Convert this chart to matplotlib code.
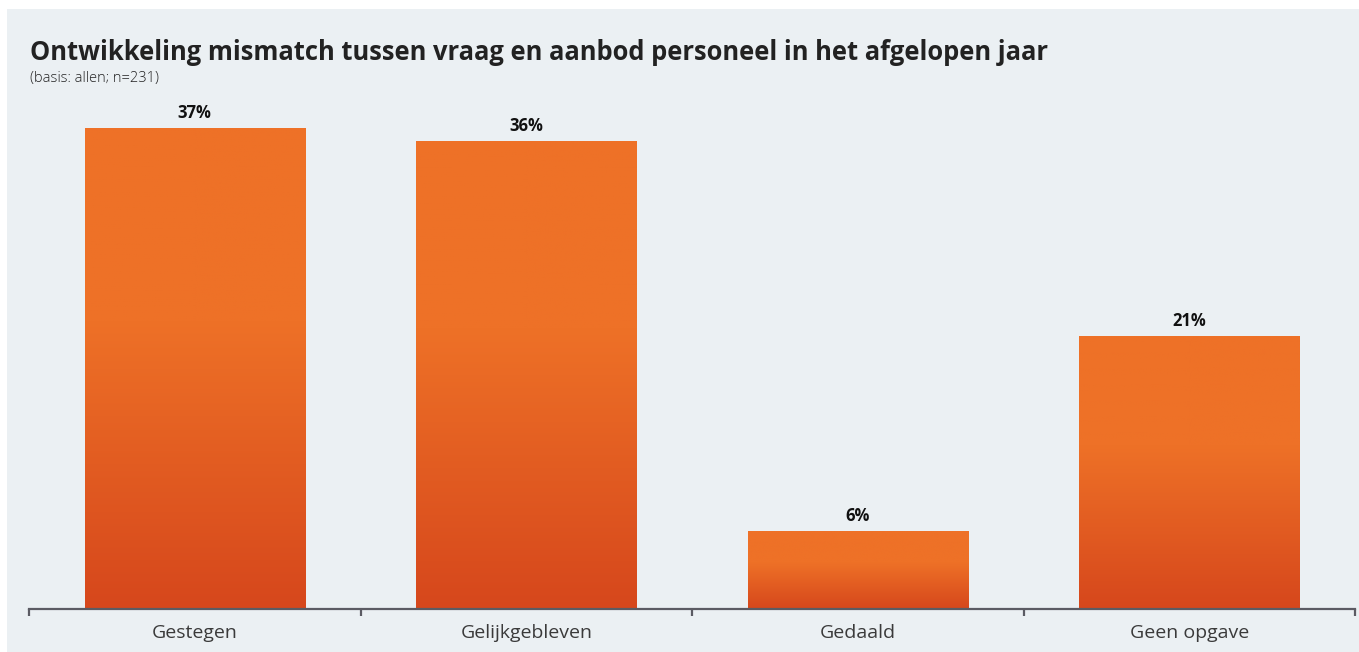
import numpy as np
import matplotlib.pyplot as plt
from matplotlib.patches import Rectangle
from matplotlib.colors import LinearSegmentedColormap

# data
categories = ["Gestegen", "Gelijkgebleven", "Gedaald", "Geen opgave"]
values = [37, 36, 6, 21]
labels = ["37%", "36%", "6%", "21%"]

W, H = 1359, 652
bg = "#EBF0F3"
fig = plt.figure(figsize=(W / 100, H / 100), dpi=100)
fig.patch.set_facecolor("white")
# light panel
fig.patches.append(Rectangle((7 / W, 0), 1 - 7 / W, 1 - 9 / H, transform=fig.transFigure,
                             facecolor=bg, edgecolor="none", zorder=-1))

# axes: baseline at y=609 px, 13 px per percent
ymax = 40
ax = fig.add_axes([29 / W, (H - 609) / H, (1355 - 29) / W, ymax * 13 / H])
ax.set_facecolor("none")

x = np.arange(len(categories))
bars = ax.bar(x, values, width=0.665, color="none", edgecolor="none")

# vertical gradient: solid top 40%, then darker toward the bottom
cmap = LinearSegmentedColormap.from_list("og", [(0, "#D6471C"), (0.6, "#EE7127"), (1, "#EE7127")])
grad = np.linspace(0, 1, 256).reshape(-1, 1)
for b in bars:
    x0, y0 = b.get_x(), b.get_y()
    im = ax.imshow(grad, cmap=cmap, origin="lower", aspect="auto",
                   extent=[x0, x0 + b.get_width(), y0, y0 + b.get_height()], zorder=2)
    im.set_clip_path(b)

for b, lab in zip(bars, labels):
    ax.annotate(lab, (b.get_x() + b.get_width() / 2, b.get_height()), xytext=(0, 4),
                textcoords="offset points", ha="center", va="bottom",
                fontsize=12, fontweight="bold", family="Open Sans", color="#111111")

ax.set_xlim(-0.5, len(categories) - 0.5)
ax.set_ylim(0, ymax)

for s in ["top", "right", "left"]:
    ax.spines[s].set_visible(False)
ax.spines["bottom"].set_color("#5b5b63")
ax.spines["bottom"].set_linewidth(1.6)
ax.set_yticks([])
ax.set_xticks(x)
ax.set_xticklabels(categories, fontsize=14, family="Open Sans", color="#3a3a3a")
ax.tick_params(axis="x", which="major", length=0, pad=11)
ax.set_xticks(np.arange(-0.5, len(categories)), minor=True)
ax.tick_params(axis="x", which="minor", length=5, width=1.6, color="#5b5b63")

fig.text(30 / W, 1 - 53 / H, "Ontwikkeling mismatch tussen vraag en aanbod personeel in het afgelopen jaar",
         fontsize=18.4, fontweight="bold", family="Open Sans", color="#222222", va="center")
fig.text(30 / W, 1 - 79 / H, "(basis: allen; n=231)", fontsize=10.5, fontweight="light",
         family="Open Sans", color="#222222", va="center")

fig.savefig("out.png", dpi=100, facecolor=fig.get_facecolor())
